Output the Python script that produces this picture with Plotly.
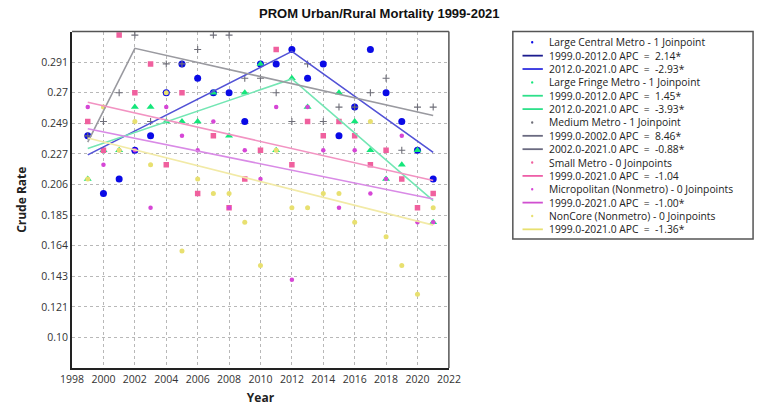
import plotly.graph_objects as go

W, H = 767, 407

years = list(range(1999, 2022))

large_central = [0.24, 0.20, 0.21, 0.23, 0.24, 0.27, 0.29, 0.28, 0.27, 0.27, 0.25, 0.29,
                 0.29, 0.30, 0.28, 0.29, 0.24, 0.26, 0.30, 0.27, 0.25, 0.23, 0.21]
large_fringe = [0.21, 0.23, 0.23, 0.26, 0.26, 0.25, 0.25, 0.25, 0.27, 0.24, 0.27, 0.29,
                0.23, 0.28, 0.26, None, 0.27, 0.25, 0.23, 0.21, 0.22, 0.23, 0.18]
medium_metro = [0.24, 0.25, 0.27, 0.31, 0.25, 0.29, 0.29, 0.30, 0.31, 0.31, 0.28, 0.28,
                0.27, 0.25, 0.29, 0.25, 0.26, 0.26, 0.27, 0.28, 0.23, 0.26, 0.26]
small_metro = [0.25, 0.23, 0.31, 0.27, 0.29, 0.22, 0.27, 0.20, 0.24, 0.19, 0.21, 0.23,
               0.30, 0.22, 0.25, 0.24, 0.25, 0.24, 0.22, 0.23, 0.21, 0.19, 0.20]
micropolitan = [0.26, 0.22, 0.23, 0.23, 0.19, 0.26, 0.24, 0.23, 0.25, 0.19, 0.23, 0.21,
                0.26, 0.14, 0.26, 0.23, 0.19, 0.23, 0.20, 0.21, 0.24, 0.18, 0.18]
noncore = [0.21, 0.26, 0.23, 0.25, 0.22, 0.27, 0.16, 0.21, 0.20, 0.20, 0.18, 0.15,
           0.23, 0.19, 0.19, 0.20, 0.20, 0.18, 0.25, 0.17, 0.15, 0.13, 0.19]

# joinpoint fitted trends (years, fitted values)
lc_fit_years = [1999, 2012, 2021]
lc_fit_vals = [0.2268, 0.2987, 0.2286]
lf_fit_years = [1999, 2012, 2021]
lf_fit_vals = [0.2312, 0.2795, 0.1950]
mm_fit_years = [1999, 2002, 2021]
mm_fit_vals = [0.2357, 0.3008, 0.2542]
sm_fit_years = [1999, 2021]
sm_fit_vals = [0.2633, 0.2090]
mp_fit_years = [1999, 2021]
mp_fit_vals = [0.2450, 0.1962]
nc_fit_years = [1999, 2021]
nc_fit_vals = [0.2385, 0.1780]

y_tickvals = [0.1 + k * 0.02125 for k in range(10)]
y_ticktext = ["0.10", "0.121", "0.143", "0.164", "0.185", "0.206", "0.227", "0.249", "0.27", "0.291"]
x_tickvals = list(range(1998, 2023, 2))

series = [
    dict(name="Large Central Metro - 1 Joinpoint", y=large_central, fx=lc_fit_years, fy=lc_fit_vals,
         mcolor="#0a0ae6", lcolor="#5252d6", symbol="circle", size=7, lw=0,
         seg=["1999.0-2012.0 APC  =  2.14*", "2012.0-2021.0 APC  =  -2.93*"],
         legcolors=["#1c1c8f", "#2f2fe0"]),
    dict(name="Large Fringe Metro - 1 Joinpoint", y=large_fringe, fx=lf_fit_years, fy=lf_fit_vals,
         mcolor="#14e67a", lcolor="#74e6b4", symbol="triangle-up", size=7, lw=0,
         seg=["1999.0-2012.0 APC  =  1.45*", "2012.0-2021.0 APC  =  -3.93*"],
         legcolors=["#2ee08a", "#2ee08a"]),
    dict(name="Medium Metro - 1 Joinpoint", y=medium_metro, fx=mm_fit_years, fy=mm_fit_vals,
         mcolor="#6e6e78", lcolor="#9a9aa0", symbol="cross-thin", size=5, lw=1.1,
         seg=["1999.0-2002.0 APC  =  8.46*", "2002.0-2021.0 APC  =  -0.88*"],
         legcolors=["#6a6a80", "#6a6a80"]),
    dict(name="Small Metro - 0 Joinpoints", y=small_metro, fx=sm_fit_years, fy=sm_fit_vals,
         mcolor="#f0609e", lcolor="#f293c2", symbol="square", size=5.5, lw=0,
         seg=["1999.0-2021.0 APC  =  -1.04"], legcolors=["#ee5fa8"]),
    dict(name="Micropolitan (Nonmetro) - 0 Joinpoints", y=micropolitan, fx=mp_fit_years, fy=mp_fit_vals,
         mcolor="#d646d6", lcolor="#d98ae6", symbol="circle", size=4.5, lw=0,
         seg=["1999.0-2021.0 APC  =  -1.00*"], legcolors=["#d04fd0"]),
    dict(name="NonCore (Nonmetro) - 0 Joinpoints", y=noncore, fx=nc_fit_years, fy=nc_fit_vals,
         mcolor="#e8e070", lcolor="#f2eaa6", symbol="circle", size=5, lw=0,
         seg=["1999.0-2021.0 APC  =  -1.36*"], legcolors=["#e8e070"]),
]

fig = go.Figure()
for s in series:
    mk = dict(color=s["mcolor"], size=s["size"], symbol=s["symbol"])
    if s["lw"]:
        mk["line"] = dict(color=s["mcolor"], width=s["lw"])
    else:
        mk["line"] = dict(width=0)
    fig.add_trace(go.Scatter(x=years, y=s["y"], mode="markers", marker=mk,
                             showlegend=False, hoverinfo="x+y", name=s["name"]))
for s in series:
    fig.add_trace(go.Scatter(x=s["fx"], y=s["fy"], mode="lines",
                             line=dict(color=s["lcolor"], width=1.6),
                             showlegend=False, hoverinfo="skip"))

# plot area in pixels
L, R, T, B = 62, 451, 31.5, 368

def px(x):
    return x / W

def py(y):
    return 1 - y / H

grid = dict(showgrid=True, gridcolor="#b8b8b8", griddash="dot", gridwidth=1)
fig.update_xaxes(domain=[px(L), px(R)], range=[1998, 2022], tickvals=x_tickvals,
                 ticks="", tickfont=dict(family="Open Sans", size=10.5, color="#333333"),
                 showline=True, linecolor="#222222", linewidth=2, zeroline=False,
                 mirror=False, **grid,
                 title=dict(text="<b>Year</b>", font=dict(family="Open Sans", size=12, color="#222"),
                            standoff=9))
fig.update_yaxes(domain=[py(B), py(T)], range=[0.07875, 0.3125], tickvals=y_tickvals,
                 ticktext=y_ticktext, ticks="",
                 tickfont=dict(family="Open Sans", size=10.5, color="#333333"),
                 showline=True, linecolor="#222222", linewidth=2, zeroline=False, **grid,
                 title=dict(text="<b>Crude Rate</b>", font=dict(family="Open Sans", size=12, color="#222"),
                            standoff=12))

shapes = []
# top/right frame of plot area
shapes.append(dict(type="line", xref="paper", yref="paper", x0=px(L), x1=px(R), y0=py(T), y1=py(T),
                   line=dict(color="#555555", width=1.5)))
shapes.append(dict(type="line", xref="paper", yref="paper", x0=px(R), x1=px(R), y0=py(T), y1=py(B),
                   line=dict(color="#555555", width=1.5)))

# legend box
LX0, LY0, LX1, LY1 = 517, 31.5, 765, 239
shapes.append(dict(type="rect", xref="paper", yref="paper", x0=px(LX0), x1=px(LX1), y0=py(LY0), y1=py(LY1),
                   line=dict(color="#555555", width=1.5), fillcolor="white"))

annotations = []
row_y0, row_dy = 42.3, 13.36
row = 0
for s in series:
    yy = row_y0 + row * row_dy
    shapes.append(dict(type="circle", xref="paper", yref="paper",
                       x0=px(535.8), x1=px(538.2), y0=py(yy - 1.2), y1=py(yy + 1.2),
                       line=dict(width=0), fillcolor=s["mcolor"]))
    annotations.append(dict(text=s["name"], xref="paper", yref="paper", x=px(552), y=py(yy),
                            xanchor="left", yanchor="middle", showarrow=False,
                            font=dict(family="Open Sans", size=10.3, color="#222222")))
    row += 1
    for seg, c in zip(s["seg"], s["legcolors"]):
        yy = row_y0 + row * row_dy
        shapes.append(dict(type="line", xref="paper", yref="paper", x0=px(527), x1=px(548),
                           y0=py(yy), y1=py(yy), line=dict(color=c, width=1.8)))
        annotations.append(dict(text=seg.replace("  ", "\u00a0\u00a0"), xref="paper", yref="paper",
                                x=px(552), y=py(yy), xanchor="left", yanchor="middle", showarrow=False,
                                font=dict(family="Open Sans", size=10.3, color="#222222")))
        row += 1

annotations.append(dict(text="<b>PROM Urban/Rural Mortality 1999-2021</b>", xref="paper", yref="paper",
                        x=px(379), y=py(14), xanchor="center", yanchor="middle", showarrow=False,
                        font=dict(family="Liberation Sans Narrow, Liberation Sans", size=13, color="#111111")))

fig.update_layout(width=W, height=H, margin=dict(l=0, r=0, t=0, b=0, pad=0),
                  paper_bgcolor="white", plot_bgcolor="white",
                  shapes=shapes, annotations=annotations, showlegend=False)

fig.write_html("out.html")
